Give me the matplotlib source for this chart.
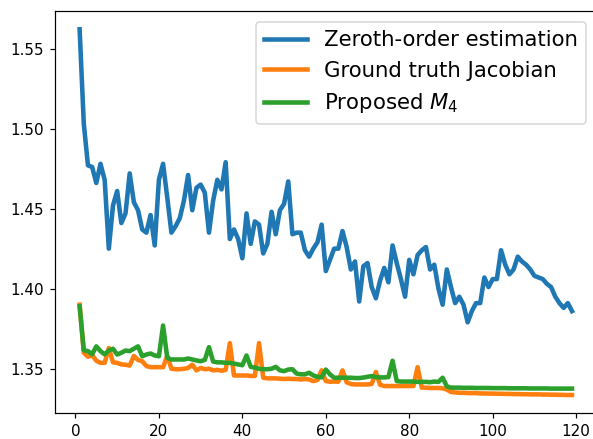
import numpy as np
import matplotlib
matplotlib.use("Agg")
import matplotlib.pyplot as plt

# iterations 1..119
steps = list(range(1, 120))

zeroth_order = [
    1.562, 1.503, 1.477, 1.476, 1.466, 1.478, 1.468, 1.425, 1.452, 1.461,
    1.441, 1.447, 1.472, 1.454, 1.449, 1.437, 1.435, 1.446, 1.427, 1.468,
    1.478, 1.457, 1.435, 1.439, 1.444, 1.455, 1.471, 1.449, 1.463, 1.465,
    1.460, 1.435, 1.455, 1.468, 1.462, 1.479, 1.431, 1.437, 1.431, 1.419,
    1.447, 1.428, 1.442, 1.440, 1.422, 1.428, 1.448, 1.434, 1.449, 1.453,
    1.467, 1.434, 1.435, 1.435, 1.424, 1.420, 1.425, 1.429, 1.440, 1.411,
    1.418, 1.425, 1.425, 1.436, 1.426, 1.412, 1.417, 1.392, 1.414, 1.416,
    1.401, 1.394, 1.405, 1.413, 1.404, 1.427, 1.416, 1.406, 1.395, 1.418,
    1.409, 1.421, 1.424, 1.426, 1.412, 1.415, 1.400, 1.390, 1.412, 1.401,
    1.391, 1.395, 1.390, 1.379, 1.386, 1.391, 1.391, 1.407, 1.401, 1.406,
    1.406, 1.424, 1.415, 1.409, 1.412, 1.420, 1.417, 1.415, 1.412, 1.408,
    1.407, 1.406, 1.403, 1.401, 1.395, 1.391, 1.388, 1.391, 1.386,
]

ground_truth = [
    1.390, 1.360, 1.3575, 1.3585, 1.355, 1.3537, 1.3537, 1.363, 1.354, 1.3537,
    1.3527, 1.3525, 1.352, 1.358, 1.3555, 1.3547, 1.3517, 1.351, 1.351, 1.351,
    1.351, 1.358, 1.350, 1.3497, 1.3497, 1.350, 1.3505, 1.3525, 1.349, 1.3505,
    1.3497, 1.350, 1.349, 1.3493, 1.3488, 1.3493, 1.366, 1.3458, 1.3458, 1.3458,
    1.3458, 1.3455, 1.3455, 1.366, 1.3444, 1.344, 1.344, 1.344, 1.3438, 1.3436,
    1.3438, 1.3436, 1.3436, 1.3433, 1.3436, 1.3433, 1.3423, 1.343, 1.349, 1.3423,
    1.3419, 1.342, 1.3419, 1.349, 1.3415, 1.3405, 1.3402, 1.3402, 1.3402, 1.3402,
    1.3405, 1.348, 1.340, 1.3392, 1.3392, 1.3392, 1.3392, 1.3392, 1.3392, 1.3392,
    1.3392, 1.351, 1.3382, 1.3382, 1.338, 1.338, 1.338, 1.3378, 1.337, 1.3355,
    1.3352, 1.3350, 1.3350, 1.3348, 1.3348, 1.3348, 1.3346, 1.3346, 1.3345, 1.3345,
    1.3344, 1.3344, 1.3343, 1.3343, 1.3342, 1.3342, 1.3341, 1.3341, 1.3340, 1.3340,
    1.3340, 1.3339, 1.3339, 1.3338, 1.3338, 1.3337, 1.3337, 1.3336, 1.3336,
]

proposed_m4 = [
    1.389, 1.3615, 1.361, 1.359, 1.364, 1.361, 1.359, 1.3614, 1.3625, 1.3589,
    1.360, 1.3614, 1.361, 1.3625, 1.364, 1.3578, 1.3589, 1.3595, 1.3583, 1.3578,
    1.377, 1.3568, 1.3558, 1.3558, 1.3558, 1.3558, 1.3564, 1.3558, 1.3552, 1.3547,
    1.3555, 1.3635, 1.3545, 1.354, 1.354, 1.3537, 1.3537, 1.3532, 1.3527, 1.3522,
    1.3583, 1.3512, 1.3507, 1.350, 1.3497, 1.3497, 1.350, 1.3512, 1.349, 1.3485,
    1.3495, 1.3497, 1.347, 1.3465, 1.3465, 1.3475, 1.3458, 1.345, 1.3446, 1.3495,
    1.3465, 1.3444, 1.3444, 1.3444, 1.3444, 1.3444, 1.3442, 1.3442, 1.3445, 1.345,
    1.3454, 1.3448, 1.3446, 1.3446, 1.3448, 1.355, 1.3423, 1.342, 1.342, 1.342,
    1.342, 1.3418, 1.3418, 1.3418, 1.3416, 1.342, 1.3418, 1.3444, 1.339, 1.3382,
    1.3382, 1.3382, 1.3381, 1.3381, 1.3381, 1.338, 1.338, 1.338, 1.338, 1.3379,
    1.3379, 1.3379, 1.3379, 1.3378, 1.3378, 1.3378, 1.3378, 1.3378, 1.3377, 1.3377,
    1.3377, 1.3377, 1.3377, 1.3376, 1.3376, 1.3376, 1.3376, 1.3376, 1.3376,
]

dpi = 109
fig = plt.figure(figsize=(593 / dpi, 439 / dpi), dpi=dpi)
# right spine falls just outside the (cropped) reference image
ax = fig.add_axes([55 / 593, 25.7 / 439, 541.6 / 593, 402.3 / 439])

ax.plot(steps, zeroth_order, linewidth=3, label="Zeroth-order estimation")
ax.plot(steps, ground_truth, linewidth=3, label="Ground truth Jacobian")
ax.plot(steps, proposed_m4, linewidth=3, label="Proposed $M_4$")

ax.set_xticks([0, 20, 40, 60, 80, 100, 120])
ax.set_yticks([1.35, 1.40, 1.45, 1.50, 1.55])
ax.spines["right"].set_visible(False)
ax.legend(loc="upper right", fontsize=14)

fig.savefig("out.png", dpi=dpi)
